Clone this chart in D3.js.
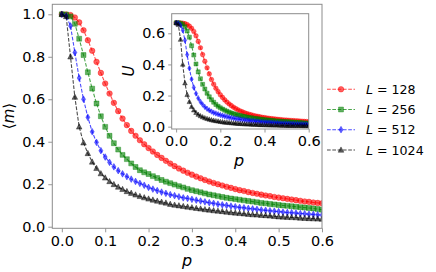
<!DOCTYPE html>
<html>
<head>
<meta charset="utf-8">
<script src="https://cdn.jsdelivr.net/npm/d3@7.9.0/dist/d3.min.js"></script>
<style>
  html, body { margin: 0; padding: 0; background: #fff; }
  svg { display: block; font-family: "DejaVu Sans", sans-serif; }
</style>
</head>
<body>
<svg id="chart" width="436" height="272"></svg>
<script>
// probability grid shared by every curve
const pValues = [0.00,0.01,0.02,0.03,0.04,0.05,0.06,0.07,0.08,0.09,
  0.10,0.11,0.12,0.13,0.14,0.15,0.16,0.17,0.18,0.19,
  0.20,0.21,0.22,0.23,0.24,0.25,0.26,0.27,0.28,0.29,
  0.30,0.31,0.32,0.33,0.34,0.35,0.36,0.37,0.38,0.39,
  0.40,0.41,0.42,0.43,0.44,0.45,0.46,0.47,0.48,0.49,
  0.50,0.51,0.52,0.53,0.54,0.55,0.56,0.57,0.58,0.59,0.60];

const sizes = [128, 256, 512, 1024];

// <m> (main panel)
const magL128 = [1.000,0.999,0.996,0.985,0.962,0.925,0.878,0.828,0.776,0.724,
  0.674,0.627,0.583,0.544,0.509,0.478,0.451,0.428,0.407,0.388,
  0.370,0.354,0.338,0.324,0.310,0.297,0.285,0.274,0.264,0.254,
  0.245,0.236,0.228,0.220,0.213,0.206,0.200,0.194,0.188,0.183,
  0.177,0.172,0.168,0.163,0.159,0.155,0.151,0.147,0.144,0.140,
  0.137,0.134,0.131,0.128,0.125,0.122,0.119,0.117,0.114,0.112,0.110];
const magL256 = [1.000,0.999,0.990,0.955,0.885,0.808,0.727,0.650,0.580,0.520,
  0.470,0.428,0.393,0.363,0.338,0.318,0.298,0.281,0.266,0.256,
  0.248,0.238,0.229,0.220,0.212,0.205,0.198,0.191,0.185,0.178,
  0.172,0.167,0.162,0.157,0.152,0.148,0.144,0.140,0.136,0.133,
  0.130,0.127,0.124,0.121,0.118,0.115,0.112,0.110,0.107,0.105,
  0.102,0.100,0.098,0.096,0.094,0.092,0.090,0.088,0.086,0.083,0.080];
const magL512 = [1.000,0.992,0.945,0.820,0.700,0.600,0.515,0.447,0.397,0.358,
  0.328,0.303,0.282,0.264,0.249,0.236,0.224,0.213,0.204,0.195,
  0.185,0.177,0.170,0.163,0.157,0.151,0.146,0.141,0.136,0.133,
  0.129,0.125,0.121,0.117,0.113,0.110,0.106,0.103,0.100,0.097,
  0.094,0.091,0.089,0.086,0.084,0.082,0.079,0.077,0.075,0.073,
  0.071,0.069,0.067,0.066,0.064,0.062,0.061,0.059,0.058,0.056,0.055];
const magL1024 = [1.000,0.990,0.800,0.610,0.470,0.395,0.345,0.305,0.275,0.250,
  0.230,0.213,0.199,0.187,0.176,0.166,0.158,0.150,0.143,0.137,
  0.131,0.126,0.121,0.116,0.112,0.106,0.102,0.099,0.096,0.093,
  0.090,0.087,0.084,0.081,0.079,0.076,0.074,0.072,0.069,0.067,
  0.065,0.063,0.061,0.059,0.057,0.056,0.054,0.053,0.051,0.049,
  0.047,0.046,0.045,0.044,0.043,0.041,0.040,0.039,0.038,0.037,0.036];

// Binder cumulant U (inset)
const binderL128 = [0.667,0.667,0.666,0.665,0.662,0.656,0.646,0.632,0.612,0.584,
  0.548,0.507,0.463,0.420,0.378,0.339,0.303,0.273,0.247,0.225,
  0.205,0.188,0.172,0.158,0.146,0.135,0.125,0.116,0.108,0.101,
  0.095,0.089,0.084,0.080,0.076,0.072,0.069,0.066,0.063,0.060,
  0.058,0.056,0.054,0.052,0.050,0.049,0.047,0.046,0.044,0.043,
  0.042,0.041,0.040,0.039,0.038,0.037,0.036,0.035,0.034,0.033,0.032];
const binderL256 = [0.667,0.667,0.665,0.658,0.642,0.615,0.575,0.520,0.460,0.403,
  0.352,0.308,0.272,0.242,0.215,0.192,0.173,0.157,0.143,0.131,
  0.121,0.113,0.106,0.099,0.093,0.088,0.083,0.079,0.075,0.071,
  0.068,0.065,0.062,0.059,0.057,0.054,0.052,0.050,0.048,0.046,
  0.045,0.043,0.042,0.040,0.039,0.037,0.036,0.035,0.034,0.033,
  0.032,0.031,0.030,0.029,0.028,0.027,0.026,0.025,0.024,0.023,0.022];
const binderL512 = [0.667,0.665,0.652,0.620,0.555,0.462,0.375,0.305,0.252,0.213,
  0.183,0.160,0.142,0.127,0.115,0.105,0.097,0.090,0.085,0.080,
  0.075,0.071,0.067,0.063,0.060,0.057,0.054,0.051,0.049,0.047,
  0.045,0.043,0.041,0.039,0.037,0.036,0.034,0.033,0.032,0.030,
  0.029,0.028,0.027,0.026,0.025,0.024,0.023,0.022,0.021,0.021,
  0.020,0.019,0.018,0.018,0.017,0.017,0.016,0.016,0.015,0.015,0.014];
const binderL1024 = [0.667,0.655,0.560,0.400,0.280,0.205,0.160,0.128,0.106,0.090,
  0.078,0.069,0.062,0.056,0.051,0.047,0.043,0.040,0.037,0.035,
  0.032,0.030,0.028,0.027,0.025,0.024,0.022,0.021,0.020,0.019,
  0.018,0.017,0.016,0.016,0.015,0.014,0.014,0.013,0.012,0.012,
  0.011,0.011,0.010,0.010,0.009,0.009,0.009,0.008,0.008,0.008,
  0.007,0.007,0.007,0.006,0.006,0.006,0.006,0.005,0.005,0.005,0.005];

const xTicks = [0, 0.1, 0.2, 0.3, 0.4, 0.5, 0.6];
const yTicks = [0, 0.2, 0.4, 0.6, 0.8, 1.0];
const insetXTicks = [0, 0.2, 0.4, 0.6];
const insetYTicks = [0, 0.2, 0.4, 0.6];
const insetYMinor = [0.1, 0.3, 0.5];

const series = [
  { L: sizes[0], mag: magL128, binder: binderL128, color: '#ff0000', shape: 'circle' },
  { L: sizes[1], mag: magL256, binder: binderL256, color: '#008000', shape: 'square' },
  { L: sizes[2], mag: magL512, binder: binderL512, color: '#0000ff', shape: 'thin_diamond' },
  { L: sizes[3], mag: magL1024, binder: binderL1024, color: '#000000', shape: 'triangle' }
];

const svg = d3.select('#chart');
const spineColor = '#8c8c8c';

function markerPath(shape, r) {
  if (shape === 'circle') {
    return `M${r},0A${r},${r} 0 1,1 ${-r},0A${r},${r} 0 1,1 ${r},0Z`;
  }
  if (shape === 'square') {
    let h = r * 0.88;
    return `M${-h},${-h}H${h}V${h}H${-h}Z`;
  }
  if (shape === 'thin_diamond') {
    let h = r * 1.2, w = r * 0.72;
    return `M0,${-h}L${w},0L0,${h}L${-w},0Z`;
  }
  // triangle up
  return `M0,${-r * 1.1}L${r},${r * 0.8}L${-r},${r * 0.8}Z`;
}

function drawPanel(g, opts) {
  const x = d3.scaleLinear().domain(opts.xDomain).range([opts.left, opts.right]);
  const y = d3.scaleLinear().domain(opts.yDomain).range([opts.bottom, opts.top]);

  g.append('rect')
    .attr('x', opts.left).attr('y', opts.top)
    .attr('width', opts.right - opts.left).attr('height', opts.bottom - opts.top)
    .attr('fill', '#fff');

  const clipId = 'clip-' + opts.name;
  g.append('clipPath').attr('id', clipId)
    .append('rect')
    .attr('x', opts.left).attr('y', opts.top)
    .attr('width', opts.right - opts.left).attr('height', opts.bottom - opts.top);

  const plot = g.append('g').attr('clip-path', `url(#${clipId})`);

  series.forEach(s => {
    const vals = s[opts.key];
    const pts = pValues.map((p, i) => [p, vals[i]]);
    const line = d3.line().x(d => x(d[0])).y(d => y(d[1]));
    plot.append('path')
      .attr('d', line(pts))
      .attr('fill', 'none')
      .attr('stroke', s.color)
      .attr('stroke-opacity', 0.7)
      .attr('stroke-width', 1.1)
      .attr('stroke-dasharray', '3.7,1.6');
    plot.selectAll(null)
      .data(pts)
      .join('path')
      .attr('transform', d => `translate(${x(d[0])},${y(d[1])})`)
      .attr('d', markerPath(s.shape, opts.markerR))
      .attr('fill', s.color)
      .attr('fill-opacity', 0.62)
      .attr('stroke', s.color)
      .attr('stroke-opacity', 0.62)
      .attr('stroke-width', 0.6);
  });

  // axes
  const xAxis = d3.axisBottom(x).tickValues(opts.xTicks)
    .tickFormat(d3.format('.1f')).tickSize(opts.tickLen).tickPadding(3);
  const yAxis = d3.axisLeft(y).tickValues(opts.yTicks)
    .tickFormat(d3.format('.1f')).tickSize(opts.tickLen).tickPadding(3);

  const gx = g.append('g').attr('transform', `translate(0,${opts.bottom})`).call(xAxis);
  const gy = g.append('g').attr('transform', `translate(${opts.left},0)`).call(yAxis);
  [gx, gy].forEach(a => {
    a.select('.domain').remove();
    a.selectAll('.tick line').attr('stroke', spineColor).attr('stroke-width', 0.9);
    a.selectAll('.tick text')
      .attr('font-family', '"DejaVu Sans", sans-serif')
      .attr('font-size', opts.fontSize)
      .attr('fill', '#000');
  });

  if (opts.yMinor) {
    g.selectAll(null).data(opts.yMinor).join('line')
      .attr('x1', opts.left - opts.tickLen * 0.55).attr('x2', opts.left)
      .attr('y1', d => y(d)).attr('y2', d => y(d))
      .attr('stroke', spineColor).attr('stroke-width', 0.7);
  }

  g.append('rect')
    .attr('x', opts.left).attr('y', opts.top)
    .attr('width', opts.right - opts.left).attr('height', opts.bottom - opts.top)
    .attr('fill', 'none')
    .attr('stroke', spineColor)
    .attr('stroke-width', 1);

  return { x, y };
}

// main panel
const main = svg.append('g');
drawPanel(main, {
  name: 'main', key: 'mag',
  left: 52.3, right: 322, top: 4.3, bottom: 228.3,
  xDomain: [-0.022, 0.6], yDomain: [-0.0075, 1.047],
  xTicks: xTicks, yTicks: yTicks,
  tickLen: 4, fontSize: '14.5px', markerR: 2.8
});

main.append('text')
  .attr('x', 187).attr('y', 266)
  .attr('text-anchor', 'middle')
  .attr('font-size', '16px')
  .attr('font-style', 'italic')
  .text('p');

main.append('text')
  .attr('transform', 'translate(14,116) rotate(-90)')
  .attr('text-anchor', 'middle')
  .attr('font-size', '15px')
  .text('⟨')
  .append('tspan').attr('font-style', 'italic').text('m')
  .select(function () { return this.parentNode; })
  .append('tspan').text('⟩');

// inset panel
const inset = svg.append('g');
drawPanel(inset, {
  name: 'inset', key: 'binder',
  left: 171.7, right: 308.7, top: 13.7, bottom: 129,
  xDomain: [-0.02, 0.6], yDomain: [-0.015, 0.726],
  xTicks: insetXTicks, yTicks: insetYTicks, yMinor: insetYMinor,
  tickLen: 3.5, fontSize: '14.5px', markerR: 2.3
});

inset.append('text')
  .attr('x', 239).attr('y', 166)
  .attr('text-anchor', 'middle')
  .attr('font-size', '16px')
  .attr('font-style', 'italic')
  .text('p');

inset.append('text')
  .attr('transform', 'translate(134,71) rotate(-90)')
  .attr('text-anchor', 'middle')
  .attr('font-size', '15px')
  .attr('font-style', 'italic')
  .text('U');

// legend
const legend = svg.append('g');
const rowY = [89.3, 109.5, 129.7, 150];
series.forEach((s, i) => {
  const row = legend.append('g').attr('transform', `translate(0,${rowY[i]})`);
  row.append('line')
    .attr('x1', 327).attr('x2', 355)
    .attr('stroke', s.color).attr('stroke-opacity', 0.7)
    .attr('stroke-width', 1.1).attr('stroke-dasharray', '3.7,1.6');
  row.append('path')
    .attr('transform', 'translate(341,0)')
    .attr('d', markerPath(s.shape, 2.8))
    .attr('fill', s.color).attr('fill-opacity', 0.62)
    .attr('stroke', s.color).attr('stroke-opacity', 0.62).attr('stroke-width', 0.6);
  const t = row.append('text')
    .attr('x', 366).attr('y', 4.6)
    .attr('font-size', '12.6px');
  t.append('tspan').attr('font-style', 'italic').text('L');
  t.append('tspan').text(' = ' + s.L);
});
</script>
</body>
</html>
